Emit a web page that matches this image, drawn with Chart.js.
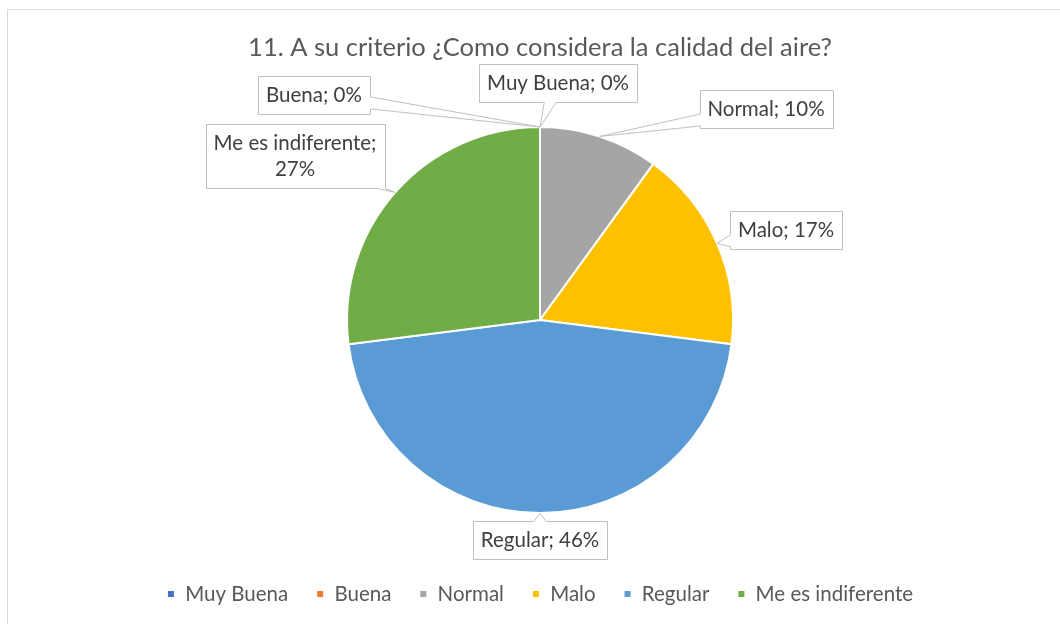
<!DOCTYPE html>
<html>
<head>
<meta charset="utf-8">
<script src="https://cdn.jsdelivr.net/npm/chart.js@4"></script>
<style>
  html, body { margin: 0; padding: 0; background: #fff; overflow: hidden; }
  #wrap { position: relative; width: 1060px; height: 624px; }
  #frame { position: absolute; left: 7px; top: 9px; width: 1100px; height: 700px;
           border: 1px solid #d9d9d9; box-sizing: border-box; }
  #c { position: absolute; left: 0; top: 0; }
</style>
</head>
<body>
<div id="wrap">
  <div id="frame"></div>
  <canvas id="c" width="1060" height="624"></canvas>
</div>
<script>
// Survey answers, question 11
const categories = ['Muy Buena', 'Buena', 'Normal', 'Malo', 'Regular', 'Me es indiferente'];
const percentages = [0, 0, 10, 17, 46, 27];
const sliceColors = ['#4472C4', '#ED7D31', '#A5A5A5', '#FFC000', '#5B9BD5', '#70AD47'];
const chartTitle = '11. A su criterio ¿Como considera la calidad del aire?';

const FONT = 'Lato, "Open Sans", sans-serif';

// Break a label into lines no wider than maxW
function wrapText(ctx, text, maxW) {
  const words = text.split(' ');
  const lines = [];
  let cur = '';
  for (const w of words) {
    const test = cur ? cur + ' ' + w : w;
    if (cur && ctx.measureText(test).width > maxW) {
      lines.push(cur);
      cur = w;
    } else {
      cur = test;
    }
  }
  if (cur) lines.push(cur);
  return lines;
}

// Boxed data labels with a wedge pointing at each slice
const calloutPlugin = {
  id: 'callouts',
  afterDatasetsDraw(chart, args, opts) {
    const ctx = chart.ctx;
    const meta = chart.getDatasetMeta(0);
    const ds = chart.data.datasets[0];
    ctx.save();
    ctx.font = `${opts.fontSize}px ${opts.family}`;
    meta.data.forEach((arc, i) => {
      const p = arc.getProps(['x', 'y', 'startAngle', 'endAngle', 'outerRadius'], true);
      const mid = (p.startAngle + p.endAngle) / 2;
      const ax = p.x + Math.cos(mid) * p.outerRadius;
      const ay = p.y + Math.sin(mid) * p.outerRadius;

      const text = `${chart.data.labels[i]}; ${ds.data[i]}%`;
      const lines = wrapText(ctx, text, opts.maxTextWidth);
      const tw = Math.max(...lines.map(l => ctx.measureText(l).width));
      const lh = opts.lineHeight;
      const w = Math.round(tw + 2 * opts.padX);
      const h = Math.round(lines.length * lh + 2 * opts.padY);
      const off = opts.offsets[i];
      const cx = p.x + off[0], cy = p.y + off[1];
      const l = Math.round(cx - w / 2) + 0.5, t = Math.round(cy - h / 2) + 0.5;
      const r = l + w, b = t + h;
      const hw = w / 2, hh = h / 2;

      // where the line from box centre to anchor leaves the box
      const dx = ax - cx, dy = ay - cy;
      const sx = dx !== 0 ? hw / Math.abs(dx) : Infinity;
      const sy = dy !== 0 ? hh / Math.abs(dy) : Infinity;
      const s = Math.min(sx, sy);
      const px = cx + dx * s, py = cy + dy * s;
      const wb = opts.wedge / 2;
      const clampX = v => Math.min(r, Math.max(l, v));
      const clampY = v => Math.min(b, Math.max(t, v));

      const pts = [];
      pts.push([l, t]);
      if (sy <= sx && dy < 0) pts.push([clampX(px - wb), t], [ax, ay], [clampX(px + wb), t]);
      pts.push([r, t]);
      if (sx < sy && dx > 0) pts.push([r, clampY(py - wb)], [ax, ay], [r, clampY(py + wb)]);
      pts.push([r, b]);
      if (sy <= sx && dy > 0) pts.push([clampX(px + wb), b], [ax, ay], [clampX(px - wb), b]);
      pts.push([l, b]);
      if (sx < sy && dx < 0) pts.push([l, clampY(py + wb)], [ax, ay], [l, clampY(py - wb)]);

      ctx.beginPath();
      pts.forEach((q, k) => k ? ctx.lineTo(q[0], q[1]) : ctx.moveTo(q[0], q[1]));
      ctx.closePath();
      ctx.fillStyle = '#ffffff';
      ctx.fill();
      ctx.lineWidth = 1;
      ctx.strokeStyle = opts.borderColor;
      ctx.stroke();

      ctx.fillStyle = opts.color;
      ctx.textAlign = 'center';
      ctx.textBaseline = 'middle';
      lines.forEach((ln, k) => {
        ctx.fillText(ln, cx, t + opts.padY + lh * (k + 0.5));
      });
    });
    ctx.restore();
  }
};

new Chart(document.getElementById('c'), {
  type: 'pie',
  data: {
    labels: categories,
    datasets: [{
      data: percentages,
      backgroundColor: sliceColors,
      borderColor: '#ffffff',
      borderWidth: 2
    }]
  },
  options: {
    responsive: false,
    animation: false,
    radius: 193,
    layout: { padding: { left: 20, right: 0, top: 0, bottom: 9.75 } },
    plugins: {
      title: {
        display: true,
        text: chartTitle,
        color: '#595959',
        font: { family: FONT, size: 25.5, weight: 'normal' },
        padding: { top: 32.7, bottom: 21 }
      },
      legend: {
        position: 'bottom',
        labels: {
          boxWidth: 8,
          boxHeight: 8,
          padding: 28,
          color: '#595959',
          font: { family: FONT, size: 20.5 }
        }
      },
      tooltip: { enabled: false },
      callouts: {
        family: FONT,
        fontSize: 20.5,
        lineHeight: 26,
        padX: 8,
        padY: 6,
        maxTextWidth: 195,
        wedge: 12,
        color: '#404040',
        borderColor: '#bfbfbf',
        offsets: [[18, -237], [-226, -225], [226, -211], [246, -90], [0, 220], [-245, -164]]
      }
    }
  },
  plugins: [calloutPlugin]
});
</script>
</body>
</html>
